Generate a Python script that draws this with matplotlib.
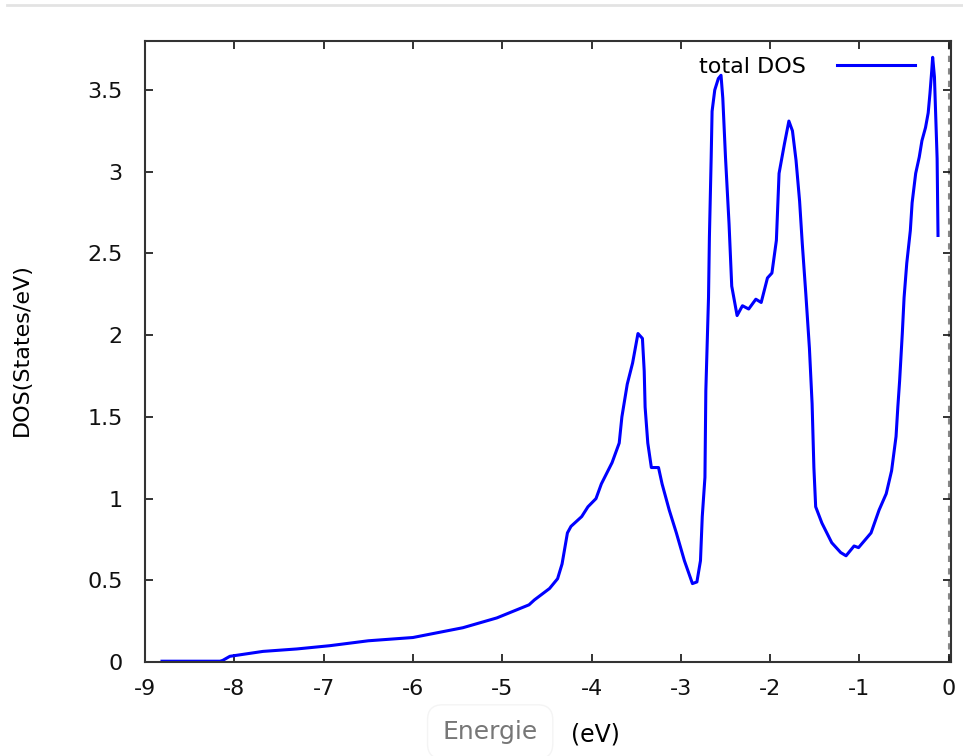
import matplotlib
matplotlib.use('Agg')
import matplotlib.pyplot as plt
from matplotlib.lines import Line2D
from matplotlib.ticker import FuncFormatter

# energy (eV) and total DOS (States/eV)
energy = [-8.81, -8.40, -8.16, -8.13, -8.05, -7.68, -7.30, -6.93, -6.50, -6.00,
          -5.44, -5.06, -4.70, -4.64, -4.47, -4.38, -4.33, -4.27, -4.23, -4.11,
          -4.04, -3.95, -3.89, -3.77, -3.69, -3.66, -3.60, -3.54, -3.48, -3.43,
          -3.41, -3.40, -3.37, -3.33, -3.25, -3.21, -3.13, -3.05, -2.96, -2.87,
          -2.82, -2.78, -2.76, -2.73, -2.72, -2.69, -2.68, -2.66, -2.65, -2.62,
          -2.58, -2.55, -2.53, -2.50, -2.46, -2.43, -2.37, -2.31, -2.24, -2.16,
          -2.10, -2.03, -1.98, -1.93, -1.90, -1.84, -1.79, -1.75, -1.71, -1.67,
          -1.64, -1.60, -1.56, -1.53, -1.51, -1.49, -1.42, -1.31, -1.21, -1.15,
          -1.06, -1.01, -0.87, -0.78, -0.70, -0.64, -0.59, -0.57, -0.55, -0.52,
          -0.50, -0.47, -0.43, -0.41, -0.37, -0.33, -0.30, -0.26, -0.23, -0.21,
          -0.19, -0.18, -0.16, -0.13, -0.12]
dos = [0.005, 0.005, 0.005, 0.01, 0.035, 0.065, 0.08, 0.10, 0.13, 0.15,
       0.21, 0.27, 0.35, 0.38, 0.45, 0.51, 0.60, 0.79, 0.83, 0.89,
       0.95, 1.00, 1.09, 1.22, 1.34, 1.50, 1.70, 1.83, 2.01, 1.98,
       1.78, 1.56, 1.34, 1.19, 1.19, 1.09, 0.93, 0.79, 0.62, 0.48,
       0.49, 0.62, 0.89, 1.13, 1.66, 2.23, 2.60, 3.09, 3.37, 3.50,
       3.57, 3.59, 3.45, 3.09, 2.68, 2.30, 2.12, 2.18, 2.16, 2.22,
       2.20, 2.35, 2.38, 2.58, 2.99, 3.17, 3.31, 3.25, 3.07, 2.82,
       2.56, 2.25, 1.92, 1.58, 1.19, 0.95, 0.85, 0.73, 0.67, 0.65,
       0.71, 0.70, 0.79, 0.93, 1.03, 1.17, 1.38, 1.56, 1.72, 2.01,
       2.23, 2.44, 2.64, 2.81, 2.99, 3.09, 3.19, 3.27, 3.36, 3.48,
       3.62, 3.70, 3.58, 3.08, 2.61]

x_ticks = [-9, -8, -7, -6, -5, -4, -3, -2, -1, 0]
y_ticks = [0, 0.5, 1, 1.5, 2, 2.5, 3, 3.5]

plt.rcParams['font.family'] = ['DejaVu Sans']

fig = plt.figure(figsize=(9.63, 7.56), dpi=100)
ax = fig.add_axes([0.1506, 0.1243, 0.8369, 0.8215])

# light separator line at the very top of the picture
fig.add_artist(Line2D([0.007, 1.0], [0.993, 0.993], color='#e3e3e3', lw=2))

ax.plot(energy, dos, color='#0000ff', lw=2.2, label='total DOS')
# Fermi level
ax.axvline(0, color='#888888', lw=1.5, ls=(0, (3, 3)), zorder=1)

ax.set_xlim(-9, 0.025)
ax.set_ylim(0, 3.8)
ax.set_xticks(x_ticks)
ax.set_yticks(y_ticks)
ax.xaxis.set_major_formatter(FuncFormatter(lambda v, p: '%g' % v))
ax.yaxis.set_major_formatter(FuncFormatter(lambda v, p: '%g' % v))
ax.tick_params(direction='in', length=6, width=1.2, top=True, right=True,
               labelsize=16, colors='#111111')
ax.tick_params(axis='y', pad=16)
ax.tick_params(axis='x', pad=12)
for s in ax.spines.values():
    s.set_color('#333333')
    s.set_linewidth(1.5)

fig.text(0.023, 0.537, 'DOS(States/eV)', fontsize=16, rotation=90,
         ha='center', va='center')
fig.text(0.509, 0.032, 'Energie', fontsize=18, color='#777777', ha='center', va='center',
         bbox=dict(boxstyle='round,pad=0.6', fc='white', ec='#f4f4f4', lw=1))
fig.text(0.618, 0.028, '(eV)', fontsize=17, color='black', ha='center', va='center')

ax.legend(loc='upper right', frameon=False, markerfirst=False, fontsize=16,
          handlelength=3.5, handletextpad=1.4, borderaxespad=0.3,
          bbox_to_anchor=(0.975, 1.0))

plt.savefig('out.png', dpi=100)
